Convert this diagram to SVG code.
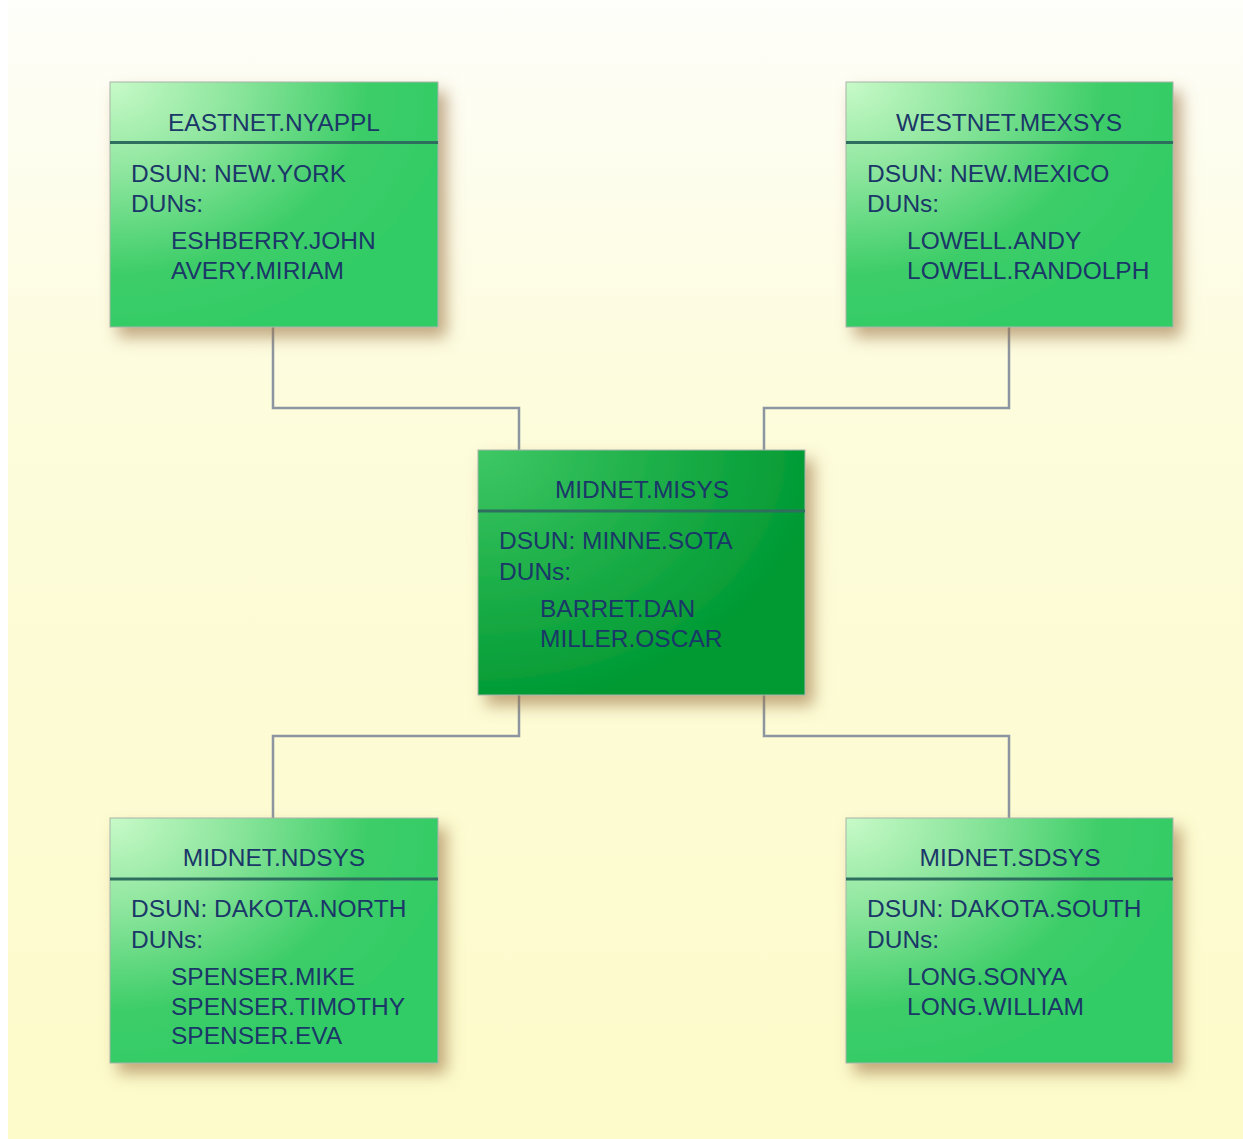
<svg xmlns="http://www.w3.org/2000/svg" width="1243" height="1139" viewBox="0 0 1243 1139">
<defs>
<linearGradient id="bg" x1="0" y1="0" x2="0" y2="1">
<stop offset="0" stop-color="#fefefa"/>
<stop offset="0.35" stop-color="#fdfcdc"/>
<stop offset="1" stop-color="#fdfbca"/>
</linearGradient>
<radialGradient id="g1" gradientUnits="objectBoundingBox" cx="0" cy="0" r="1.05" fx="0" fy="0">
<stop offset="0" stop-color="#c8fac8"/>
<stop offset="0.35" stop-color="#8ee69e"/>
<stop offset="0.75" stop-color="#3dcd68"/>
<stop offset="1" stop-color="#33cc66"/>
</radialGradient>
<radialGradient id="g2" gradientUnits="objectBoundingBox" cx="0" cy="0" r="1.05" fx="0" fy="0">
<stop offset="0" stop-color="#3ec865"/>
<stop offset="0.5" stop-color="#1fb04a"/>
<stop offset="1" stop-color="#009933"/>
</radialGradient>
<filter id="sh" x="-15%" y="-15%" width="140%" height="140%">
<feDropShadow dx="8" dy="10" stdDeviation="8" flood-color="#9a7040" flood-opacity="0.6"/>
</filter>
</defs>
<style>
.box{stroke:#a8b4a8;stroke-width:1;filter:url(#sh)}
.sep{stroke:#2e6e5e;stroke-width:3}
text{font-family:"Liberation Sans",Arial,sans-serif;font-size:24.5px;fill:#1a3768}
.t{text-anchor:middle}
.c{fill:none;stroke:#8d96a0;stroke-width:2.5}
</style>
<rect x="0" y="0" width="1243" height="1139" fill="#ffffff"/>
<rect x="8" y="0" width="1235" height="1139" fill="url(#bg)"/>
<g id="connectors">
<polyline class="c" points="273,327 273,408 519,408 519,450"/>
<polyline class="c" points="1009,327 1009,408 764,408 764,450"/>
<polyline class="c" points="519,695 519,736 273,736 273,818"/>
<polyline class="c" points="764,695 764,736 1009,736 1009,818"/>
</g>
<g id="eastnet">
<rect class="box" x="110" y="82" width="328" height="245" fill="url(#g1)"/>
<line class="sep" x1="110" y1="142.5" x2="438" y2="142.5"/>
<text class="t" x="274" y="131">EASTNET.NYAPPL</text>
<text x="131" y="182">DSUN: NEW.YORK</text>
<text x="131" y="212">DUNs:</text>
<text x="171" y="249">ESHBERRY.JOHN</text>
<text x="171" y="279">AVERY.MIRIAM</text>
</g>
<g id="westnet">
<rect class="box" x="846" y="82" width="327" height="245" fill="url(#g1)"/>
<line class="sep" x1="846" y1="142.5" x2="1173" y2="142.5"/>
<text class="t" x="1009" y="131">WESTNET.MEXSYS</text>
<text x="867" y="182">DSUN: NEW.MEXICO</text>
<text x="867" y="212">DUNs:</text>
<text x="907" y="249">LOWELL.ANDY</text>
<text x="907" y="279">LOWELL.RANDOLPH</text>
</g>
<g id="midnet-misys">
<rect class="box" x="478" y="450" width="327" height="245" fill="url(#g2)"/>
<line class="sep" x1="478" y1="511" x2="805" y2="511"/>
<text class="t" x="642" y="498">MIDNET.MISYS</text>
<text x="499" y="549">DSUN: MINNE.SOTA</text>
<text x="499" y="580">DUNs:</text>
<text x="540" y="617">BARRET.DAN</text>
<text x="540" y="647">MILLER.OSCAR</text>
</g>
<g id="midnet-ndsys">
<rect class="box" x="110" y="818" width="328" height="245" fill="url(#g1)"/>
<line class="sep" x1="110" y1="879" x2="438" y2="879"/>
<text class="t" x="274" y="866">MIDNET.NDSYS</text>
<text x="131" y="917">DSUN: DAKOTA.NORTH</text>
<text x="131" y="948">DUNs:</text>
<text x="171" y="985">SPENSER.MIKE</text>
<text x="171" y="1015">SPENSER.TIMOTHY</text>
<text x="171" y="1044">SPENSER.EVA</text>
</g>
<g id="midnet-sdsys">
<rect class="box" x="846" y="818" width="327" height="245" fill="url(#g1)"/>
<line class="sep" x1="846" y1="879" x2="1173" y2="879"/>
<text class="t" x="1010" y="866">MIDNET.SDSYS</text>
<text x="867" y="917">DSUN: DAKOTA.SOUTH</text>
<text x="867" y="948">DUNs:</text>
<text x="907" y="985">LONG.SONYA</text>
<text x="907" y="1015">LONG.WILLIAM</text>
</g>
</svg>
